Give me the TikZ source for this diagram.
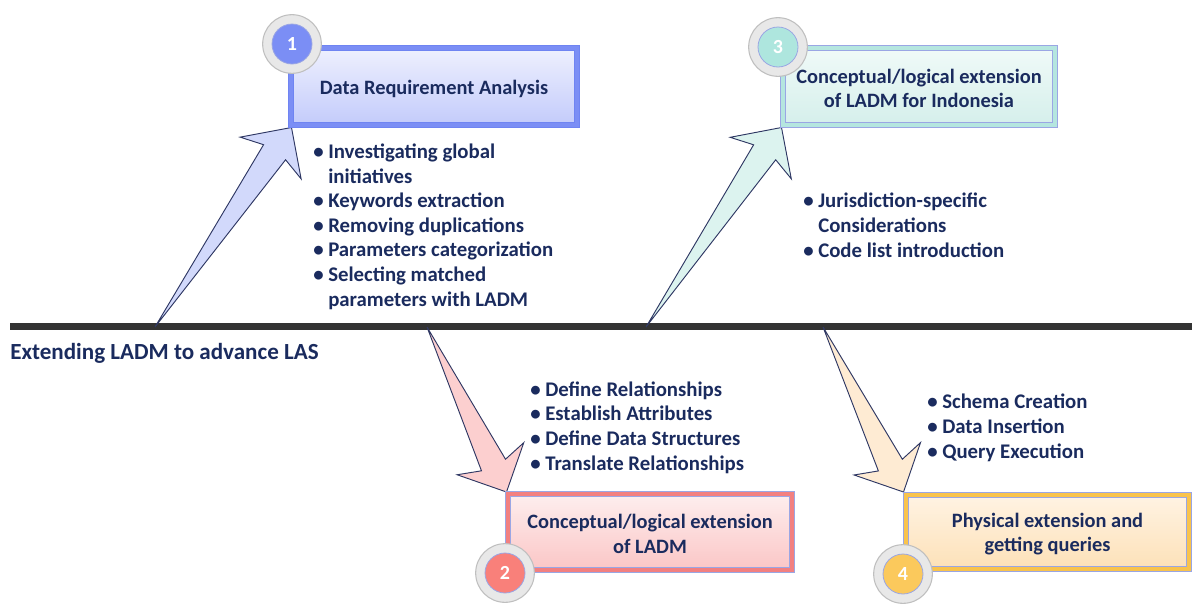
\documentclass[tikz,border=0pt]{standalone}
\usepackage{fontspec}
\setmainfont{Carlito}
\usetikzlibrary{calc,fit}

\definecolor{ink}{HTML}{1A2B5E}
\definecolor{axis}{HTML}{333333}
\definecolor{edge}{HTML}{2E3763}
\definecolor{thinblue}{HTML}{9AA6E4}
% step 1 (blue)
\definecolor{peri}{HTML}{7B8EF5}
\definecolor{periB}{HTML}{6F84F2}
\definecolor{periTop}{HTML}{EEF0FE}
\definecolor{periBot}{HTML}{C3CBFB}
\definecolor{periArrow}{HTML}{D2D9FB}
% step 2 (red)
\definecolor{rose}{HTML}{F28080}
\definecolor{roseTop}{HTML}{FDEEEE}
\definecolor{roseBot}{HTML}{FBC6C6}
\definecolor{roseDisc}{HTML}{F9807A}
\definecolor{roseArrow}{HTML}{FCCFCF}
% step 3 (mint)
\definecolor{mint}{HTML}{B5E6DF}
\definecolor{mintTop}{HTML}{F0FAF8}
\definecolor{mintBot}{HTML}{D5EFEB}
\definecolor{mintDisc}{HTML}{AEE6DE}
\definecolor{mintArrow}{HTML}{DCF3EF}
% step 4 (amber)
\definecolor{amber}{HTML}{F9C34C}
\definecolor{amberTop}{HTML}{FFF3E3}
\definecolor{amberBot}{HTML}{FDE1B8}
\definecolor{amberDisc}{HTML}{FBC95C}
\definecolor{amberArrow}{HTML}{FEEBD3}

\newcommand\bul{\makebox[11.25pt][l]{\textbullet}}
\newcommand\ind{\hspace*{11.25pt}}

% swept-back arrow from a tail point (#1) to a tip (#2), filled with #3
\newcommand\fisharrow[3]{%
  \draw[arrowline, fill=#3] (#1)
    -- ($(#2)!24.6pt!24:(#1)$) -- ($(#2)!39.2pt!45:(#1)$)
    -- (#2)
    -- ($(#2)!39.2pt!-45:(#1)$) -- ($(#2)!24.6pt!-24:(#1)$)
    -- cycle;}

\tikzset{
  txt/.style={font=\fontsize{15.6pt}{18.4pt}\selectfont\bfseries, text=ink},
  listtxt/.style={txt, align=left, inner sep=0pt, anchor=base west},
  titletxt/.style={txt, font=\fontsize{15.3pt}{18.4pt}\selectfont\bfseries, align=center, inner sep=0pt},
  arrowline/.style={draw=edge, line width=0.7pt, line join=miter},
  stepbox/.style={rectangle, inner sep=0pt, line width=0.6pt, double distance=3pt},
  ring/.style={circle, minimum size=44pt, inner sep=0pt, fill=black!9, draw=black!25, line width=0.8pt},
  disc/.style={circle, minimum size=30pt, inner sep=0pt, draw=thinblue, line width=0.6pt,
    font=\fontsize{15pt}{18pt}\selectfont\bfseries, text=white},
}

\begin{document}
\begin{tikzpicture}[x=0.75pt, y=-0.75pt]
\useasboundingbox (0,0) rectangle (1192,604);

% main time line
\coordinate (L) at (10,326.5);
\coordinate (R) at (1192,326.5);
\draw[line width=4.8pt, axis] (L) -- (R);
\node[txt, font=\fontsize{17.3pt}{20pt}\selectfont\bfseries, anchor=west, inner sep=0pt] (goal) at (10,353) {Extending LADM to advance LAS};

% anchor points of the arrows on the line
\coordinate (t1) at (155,327);
\coordinate (t3) at (646,327);
\coordinate (t2) at (427,327);
\coordinate (t4) at (823,327);

% arrow tips at the box corners
\coordinate (p1) at (291.5,127.5);
\coordinate (p3) at (781.5,127.5);
\coordinate (p2) at (506.5,492);
\coordinate (p4) at (903.5,492);

\fisharrow{t1}{p1}{periArrow}
\fisharrow{t3}{p3}{mintArrow}
\fisharrow{t2}{p2}{roseArrow}
\fisharrow{t4}{p4}{amberArrow}

% boxes
\node[stepbox, draw=periB, double=peri, top color=periTop, bottom color=periBot,
      fit={(291,48) (577,125)}] (b1) {};
\node[stepbox, draw=thinblue, double=mint, top color=mintTop, bottom color=mintBot,
      fit={(783,48) (1055,125)}] (b3) {};
\node[stepbox, draw=thinblue, double=rose, top color=roseTop, bottom color=roseBot,
      fit={(508,494) (792,570)}] (b2) {};
\node[stepbox, draw=thinblue, double=amber, top color=amberTop, bottom color=amberBot,
      fit={(906,495) (1189,569)}] (b4) {};

% box titles
\node[titletxt] (h1) at ([yshift=-1.5pt]b1.center) {Data Requirement Analysis};
\node[titletxt] (h3) at ([yshift=-1.5pt]b3.center) {Conceptual/logical extension\\of LADM for Indonesia};
\node[titletxt] (h2) at ([yshift=-1.5pt]b2.center) {Conceptual/logical extension\\of LADM};
\node[titletxt] (h4) at ([yshift=-1.5pt]b4.center) {Physical extension and\\getting queries};

% numbered badges
\node[ring] (r1) at (292,44) {};
\node[disc, fill=peri] (n1) at (r1) {1};
\node[ring] (r3) at (778,47) {};
\node[disc, fill=mintDisc] (n3) at (r3) {3};
\node[ring] (r2) at (505,573) {};
\node[disc, fill=roseDisc] (n2) at (r2) {2};
\node[ring] (r4) at (903,574) {};
\node[disc, fill=amberDisc] (n4) at (r4) {4};

% activity lists (anchored at the baseline of their last line)
\node[listtxt] (l1) at (313,306) {\bul Investigating global\\ \ind initiatives\\ \bul Keywords extraction\\ \bul Removing duplications\\ \bul Parameters categorization\\ \bul Selecting matched\\ \ind parameters with LADM};
\node[listtxt] (l3) at (803,257) {\bul Jurisdiction-specific\\ \ind Considerations\\ \bul Code list introduction};
\node[listtxt] (l2) at (530,470) {\bul Define Relationships\\ \bul Establish Attributes\\ \bul Define Data Structures\\ \bul Translate Relationships};
\node[listtxt] (l4) at (927,458) {\bul Schema Creation\\ \bul Data Insertion\\ \bul Query Execution};
\end{tikzpicture}
\end{document}
